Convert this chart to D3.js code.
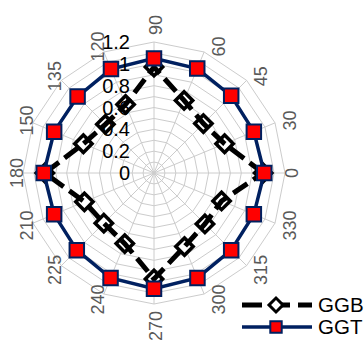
<!DOCTYPE html>
<html>
<head>
<meta charset="utf-8">
<script src="https://cdn.jsdelivr.net/npm/d3@7"></script>
<style>
  html, body { margin: 0; padding: 0; background: #ffffff; }
  svg { display: block; font-family: "Liberation Sans", Arial, sans-serif; }
</style>
</head>
<body>
<svg id="chart" width="364" height="342"></svg>
<script>
// Angle categories (degrees), laid out counter-clockwise starting at the right
const categories = ["0", "30", "45", "60", "90", "120", "135", "150",
                    "180", "210", "225", "240", "270", "300", "315", "330"];
const ggbValues = [1.00, 0.70, 0.64, 0.72, 0.97, 0.68, 0.63, 0.70,
                   1.00, 0.69, 0.65, 0.70, 0.97, 0.73, 0.66, 0.67];
const ggtValues = [1.01, 0.99, 1.00, 1.035, 1.05, 1.03, 0.99, 0.99,
                   1.01, 0.99, 1.00, 1.04, 1.06, 1.04, 1.00, 0.99];
const radialTicks = [0, 0.2, 0.4, 0.6, 0.8, 1, 1.2];
const gridSteps = d3.range(1, 13).map(k => k / 10);
const seriesNames = ["GGB", "GGT"];

const svg = d3.select("#chart");
const cx = 154, cy = 173, outer = 131;

const r = d3.scaleLinear().domain([0, 1.2]).range([0, outer]);
const angle = d3.scaleLinear().domain([0, categories.length]).range([0, 2 * Math.PI]);

const pt = (i, v) => [cx + r(v) * Math.cos(angle(i)), cy - r(v) * Math.sin(angle(i))];
const closed = d3.line().curve(d3.curveLinearClosed);

// grid rings and spokes
const grid = svg.append("g").attr("fill", "none").attr("stroke", "#cccccc").attr("stroke-width", 1);
gridSteps.forEach(v => {
  grid.append("path").attr("d", closed(categories.map((c, i) => pt(i, v))));
});
categories.forEach((c, i) => {
  const [x, y] = pt(i, 1.2);
  grid.append("line").attr("x1", cx).attr("y1", cy).attr("x2", x).attr("y2", y);
});

// category labels, rotated to read upwards
const catG = svg.append("g").attr("fill", "#595959").attr("font-size", 18);
categories.forEach((c, i) => {
  const a = angle(i);
  const [vx, vy] = pt(i, 1.2);
  const t = catG.append("text").text(c).attr("text-anchor", "middle").attr("dy", "0.35em");
  const w = t.node().getComputedTextLength();
  const s = Math.sin(a), co = Math.cos(a);
  let lx, ly;
  if (Math.abs(co) < 0.01) {
    lx = vx + 2;
    ly = vy - Math.sign(s) * (7 + w / 2);
  } else {
    const gap = co > 0 ? (Math.abs(s) < 0.01 ? 0 : 8) : 0;
    lx = vx + Math.sign(co) * (gap + 6.5);
    ly = vy - 6 * s;
  }
  t.attr("transform", `translate(${lx},${ly}) rotate(-90)`);
});

// GGB series: dashed black line over open diamonds
const ggbPts = ggbValues.map((v, i) => pt(i, v));
const diamond = d3.symbol().type(d3.symbolSquare).size(150);
svg.append("g").selectAll("path").data(ggbPts).join("path")
  .attr("d", diamond)
  .attr("transform", d => `translate(${d[0]},${d[1]}) rotate(45)`)
  .attr("fill", "#ffffff").attr("stroke", "#000000").attr("stroke-width", 3.5);
svg.append("path").attr("d", closed(ggbPts))
  .attr("fill", "none").attr("stroke", "#000000").attr("stroke-width", 5)
  .attr("stroke-dasharray", "17,7");

// GGT series: navy line with red squares
const ggtPts = ggtValues.map((v, i) => pt(i, v));
svg.append("path").attr("d", closed(ggtPts))
  .attr("fill", "none").attr("stroke", "#002060").attr("stroke-width", 3.5);
const square = d3.symbol().type(d3.symbolSquare).size(210);
svg.append("g").selectAll("path").data(ggtPts).join("path")
  .attr("d", square)
  .attr("transform", d => `translate(${d[0]},${d[1]})`)
  .attr("fill", "#ff0000").attr("stroke", "#002060").attr("stroke-width", 2);

// radial value labels
svg.append("g").attr("font-size", 20).attr("fill", "#000000")
  .selectAll("text").data(radialTicks).join("text")
  .attr("x", cx - 24).attr("y", d => cy - r(d)).attr("dy", "0.35em")
  .attr("text-anchor", "end").text(d => d);

// legend
const lg = svg.append("g");
const lx0 = 242, lx1 = 312, lmid = 276;
[305, 327].forEach((y, k) => {
  if (k === 0) {
    lg.append("line").attr("x1", lx0).attr("x2", lx1).attr("y1", y).attr("y2", y)
      .attr("stroke", "#000").attr("stroke-width", 5).attr("stroke-dasharray", "20,8");
    lg.append("path").attr("d", d3.symbol().type(d3.symbolSquare).size(98)())
      .attr("transform", `translate(${lmid},${y}) rotate(45)`)
      .attr("fill", "#fff").attr("stroke", "#000").attr("stroke-width", 3);
  } else {
    lg.append("line").attr("x1", lx0).attr("x2", lx1).attr("y1", y).attr("y2", y)
      .attr("stroke", "#002060").attr("stroke-width", 3.5);
    lg.append("path").attr("d", d3.symbol().type(d3.symbolSquare).size(130)())
      .attr("transform", `translate(${lmid},${y})`)
      .attr("fill", "#ff0000").attr("stroke", "#002060").attr("stroke-width", 2);
  }
  lg.append("text").attr("x", 318).attr("y", y).attr("dy", "0.35em")
    .attr("font-size", 20.5).attr("fill", "#000").text(seriesNames[k]);
});
</script>
</body>
</html>
